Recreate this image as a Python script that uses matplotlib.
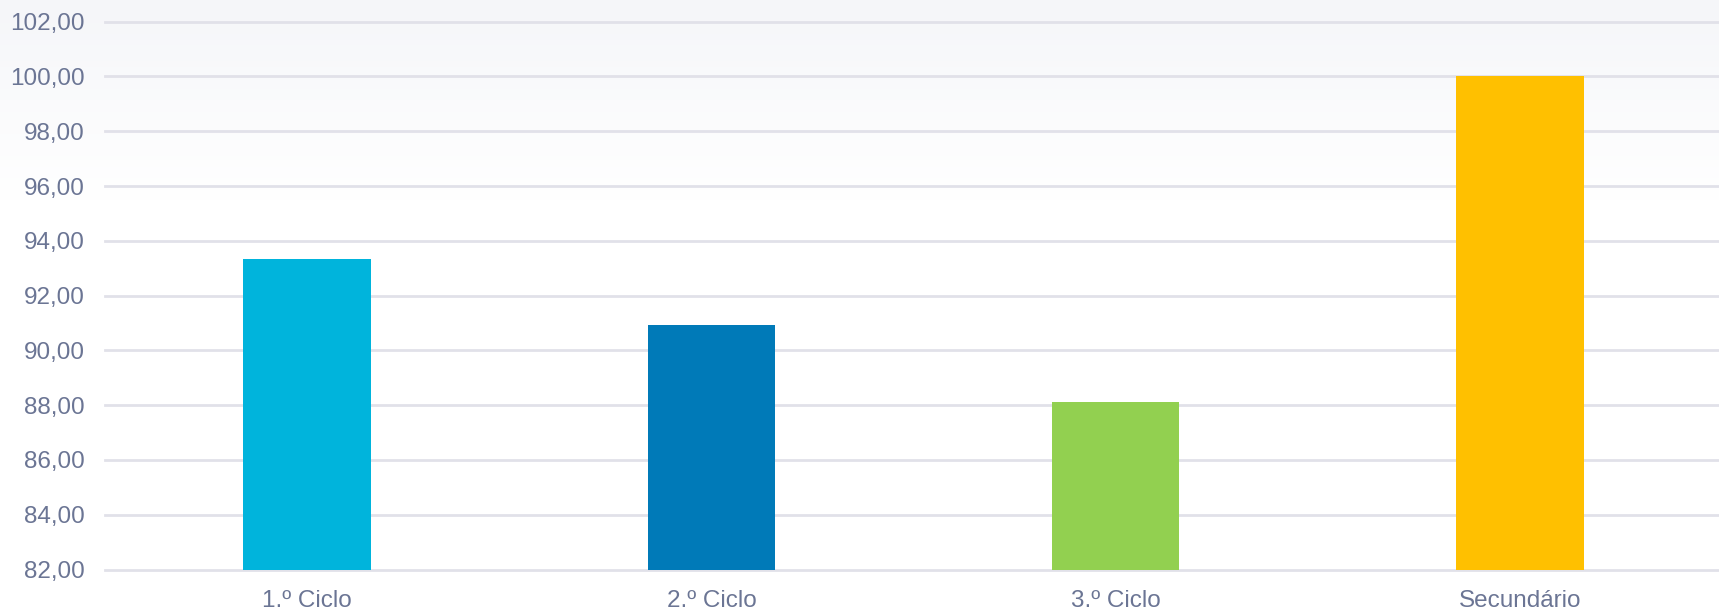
import matplotlib
matplotlib.use("Agg")
import matplotlib.pyplot as plt
import numpy as np

categories = ["1.º Ciclo", "2.º Ciclo", "3.º Ciclo", "Secundário"]
values = [93.33, 90.92, 88.11, 100.00]
colors = ["#00B4DC", "#007AB8", "#92D050", "#FFC000"]
yticks = [82, 84, 86, 88, 90, 92, 94, 96, 98, 100, 102]
ytick_labels = [f"{v:.2f}".replace(".", ",") for v in yticks]

plt.rcParams['font.family'] = ['Liberation Sans', 'DejaVu Sans']
text_col = "#6B7594"
grid_col = "#E1E1E9"

fig = plt.figure(figsize=(17.19, 6.09), dpi=100)

# soft grey-to-white gradient at the top of the figure
bg = fig.add_axes([0, 0, 1, 1], zorder=-1)
h = 609
rows = np.arange(h)
t = np.clip(rows / 200.0, 0, 1)
top = np.array([245, 246, 249]) / 255.0
grad = top[None, :] * (1 - t[:, None]) + np.ones(3)[None, :] * t[:, None]
bg.imshow(np.repeat(grad[:, None, :], 4, axis=1), aspect='auto', extent=[0, 1, 0, 1])
bg.axis('off')

ax = fig.add_axes([105 / 1719, 39.5 / 609, 1617 / 1719, 547.8 / 609])
ax.set_facecolor('none')

x = np.arange(len(categories))
ax.bar(x, values, width=0.315, color=colors, zorder=3, bottom=0)

ax.set_xlim(-0.5, 3.5)
ax.set_ylim(82, 102)
ax.set_yticks(yticks)
ax.set_yticklabels(ytick_labels)
ax.set_xticks(x)
ax.set_xticklabels(categories)

for v in yticks:
    ax.axhline(v, color=grid_col, linewidth=2, zorder=1, clip_on=False)

for s in ax.spines.values():
    s.set_visible(False)
ax.tick_params(axis='both', length=0, colors=text_col, labelsize=17.5)
ax.tick_params(axis='y', pad=14.5)
ax.tick_params(axis='x', pad=14.5)

fig.savefig("out.png", dpi=100)
